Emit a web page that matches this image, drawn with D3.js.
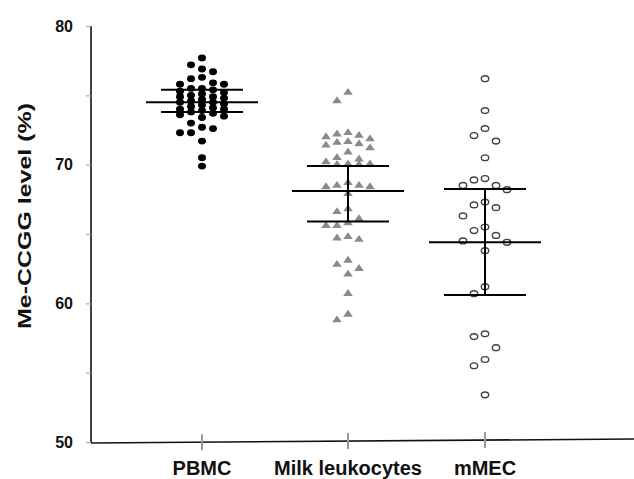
<!DOCTYPE html>
<html><head><meta charset="utf-8">
<script src="https://cdn.jsdelivr.net/npm/d3@7"></script>
<style>
body{margin:0;background:#fff}
svg{display:block}
text{font-family:"Liberation Sans",Arial,sans-serif;font-weight:bold;fill:#111}
</style>
</head><body><svg id="c" width="634" height="479"></svg>
<script>
const categories = ["PBMC", "Milk leukocytes", "mMEC"];
const pbmc = [77.7, 77.2, 76.9, 76.7, 76.3, 76.2, 75.9, 75.8, 75.8,
  75.5, 75.5, 75.4, 75.3, 75.2, 75.1, 75.0, 74.9, 74.9, 74.8, 74.7, 74.6, 74.5, 74.5,
  74.4, 74.3, 74.2, 74.1, 74.0, 74.0, 73.9, 73.8, 73.7, 73.6, 73.5, 73.4,
  73.0, 72.7, 72.6, 72.3, 72.3, 71.7, 70.5, 69.9];
const milk = [75.2, 74.6, 72.3, 72.2, 72.1, 72.0, 71.85, 71.65, 71.6, 71.5, 71.4, 71.2,
  70.9, 70.5, 70.4, 70.2, 70.05, 70.05, 70.0, 70.0, 68.7, 68.5, 68.5, 68.4, 68.4, 67.9,
  66.8, 66.6, 66.1, 65.8, 65.6, 65.6, 64.8, 64.7, 64.6, 63.1, 62.8, 62.5, 62.1, 60.7, 59.2, 58.8];
const mmec = [76.2, 73.9, 72.6, 72.1, 71.7, 70.5, 69.0, 68.9, 68.5, 68.5, 68.2, 67.3, 67.1,
  66.9, 66.3, 65.5, 65.25, 64.9, 64.5, 64.4, 63.8, 61.2, 60.7, 57.8, 57.6, 56.8, 55.95, 55.5, 53.4];
const means = [74.5, 68.1, 64.4];
const upper = [75.4, 69.9, 68.25];
const lower = [73.8, 65.9, 60.6];
const yTicks = [50, 55, 60, 65, 70, 75, 80];
const yTickLabels = ["50", "", "60", "", "70", "", "80"];
const yTitle = "Me-CCGG level (%)";

const svg = d3.select("#c");
const y = d3.scaleLinear().domain([50, 80]).range([442, 26]);
const x = d3.scaleOrdinal().domain(categories).range([202, 348, 485]);
const axisX0 = 91, axisX1 = 634;

// y axis
const yAxis = svg.append("g").attr("transform", `translate(${axisX0},0)`)
  .call(d3.axisLeft(y).tickValues(yTicks).tickSize(5).tickPadding(13)
    .tickFormat((d, i) => yTickLabels[i]));
yAxis.select(".domain").attr("stroke", "#111").attr("stroke-width", 1.6).attr("d", `M0,${y(80)}V${y(50) + 1}`);
yAxis.selectAll(".tick line").attr("stroke", "#aaa").attr("stroke-width", 1.2);
yAxis.selectAll(".tick text").attr("font-size", 16).attr("fill", "#111");

// x axis line (slightly tilted as in original)
svg.append("line").attr("x1", axisX0).attr("y1", y(50) + 1).attr("x2", axisX1).attr("y2", y(50) - 3)
  .attr("stroke", "#111").attr("stroke-width", 1.6);
const xg = svg.append("g");
categories.forEach((c, i) => {
  const cy = y(50) + 1 - 4 * (x(c) - axisX0) / (axisX1 - axisX0);
  xg.append("line").attr("x1", x(c)).attr("x2", x(c)).attr("y1", cy - 8).attr("y2", cy + 8)
    .attr("stroke", "#999").attr("stroke-width", 2);
  xg.append("text").attr("x", x(c)).attr("y", 475).attr("text-anchor", "middle")
    .attr("font-size", 20).text(c);
});

// y title
svg.append("text").attr("transform", `translate(31,${216}) rotate(-90)`)
  .attr("text-anchor", "middle").attr("font-size", 19)
  .attr("textLength", 226).attr("lengthAdjust", "spacingAndGlyphs").text(yTitle);

// beeswarm placement in columns
function swarm(values, cx, minDy) {
  const step = 11;
  const slots = [0, -1, 1, -2, 2];
  const placed = [];
  const sorted = values.slice().sort((a, b) => b - a);
  return sorted.map(v => {
    const py = y(v);
    let best = null, bestD = -1;
    for (const s of slots) {
      const same = placed.filter(p => p.s === s);
      const d = same.length ? d3.min(same, p => Math.abs(p.py - py)) : Infinity;
      if (d >= minDy) { best = s; break; }
      if (d > bestD) { bestD = d; best = s; }
    }
    const p = { v, s: best, py, px: cx + best * step };
    placed.push(p);
    return p;
  });
}

const groups = [pbmc, milk, mmec];
const gaps = [7.5, 11, 16];
const pts = groups.map((g, i) => swarm(g, x(categories[i]), gaps[i]));

// PBMC filled black dots
svg.append("g").selectAll("ellipse").data(pts[0]).join("ellipse")
  .attr("cx", d => d.px).attr("cy", d => d.py).attr("rx", 4).attr("ry", 3.4).attr("fill", "#000");
// Milk gray triangles
svg.append("g").selectAll("path").data(pts[1]).join("path")
  .attr("d", d3.symbol().type(d3.symbolTriangle).size(30))
  .attr("transform", d => `translate(${d.px},${d.py}) scale(1.15,0.95)`)
  .attr("fill", "#8a8a8a");
// mMEC open circles
svg.append("g").selectAll("ellipse").data(pts[2]).join("ellipse")
  .attr("cx", d => d.px).attr("cy", d => d.py).attr("rx", 3.7).attr("ry", 2.9)
  .attr("fill", "#fff").attr("stroke", "#444").attr("stroke-width", 1.4);

// mean and SD bars
const bars = svg.append("g").attr("stroke", "#000").attr("stroke-width", 2);
categories.forEach((c, i) => {
  const cx = x(c);
  bars.append("line").attr("x1", cx - 56).attr("x2", cx + 56).attr("y1", y(means[i])).attr("y2", y(means[i]));
  bars.append("line").attr("x1", cx - 41).attr("x2", cx + 41).attr("y1", y(upper[i])).attr("y2", y(upper[i]));
  bars.append("line").attr("x1", cx - 41).attr("x2", cx + 41).attr("y1", y(lower[i])).attr("y2", y(lower[i]));
  bars.append("line").attr("x1", cx).attr("x2", cx).attr("y1", y(upper[i])).attr("y2", y(lower[i]));
});
</script>
</body></html>
